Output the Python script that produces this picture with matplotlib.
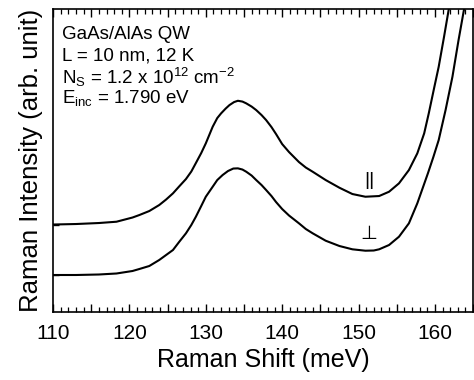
import matplotlib
matplotlib.use("Agg")
import matplotlib.pyplot as plt
from matplotlib.ticker import MultipleLocator, FuncFormatter

plt.rcParams['font.family'] = ['Liberation Sans', 'DejaVu Sans']
plt.rcParams['mathtext.fontset'] = 'custom'
plt.rcParams['mathtext.rm'] = 'Liberation Sans'
plt.rcParams['mathtext.it'] = 'Liberation Sans'

# parallel polarisation (upper trace), Raman shift in meV
par_shift = [110, 113, 116, 118.3, 120.4, 121.3, 122.6, 123.9, 124.8, 125.7,
             126.5, 127.4, 128.1, 128.7, 129.4, 130.0, 130.9, 131.5, 132.0, 132.6,
             133.1, 133.7, 134.2, 134.8, 135.3, 136.0, 136.6, 137.3, 137.9, 138.6,
             139.2, 140.0, 140.9, 142.2, 143.1, 144.0, 145.7, 147.5, 149.2, 150.9,
             152.7, 154.0, 155.3, 156.6, 157.7, 158.6, 159.2, 159.9, 160.5, 161.2,
             161.8, 162.1]
par_int = [87.5, 88, 89, 90.3, 94.5, 97, 101, 107, 112.5, 118.7,
           125.5, 133, 140.5, 149, 159, 168.7, 185.3, 194, 198.7, 203.5,
           207, 210, 211.3, 210.5, 208.7, 205.5, 202, 197, 192, 185,
           178, 168, 160, 150, 144.5, 140.3, 132, 124.3, 118, 115.3,
           116, 120.3, 128.7, 142, 158.7, 178.7, 198.7, 224, 245.3, 275.3,
           302, 315]

# perpendicular polarisation (lower trace)
perp_shift = [110, 113, 116, 118.3, 120.4, 121.3, 122.6, 123.9, 124.8, 125.7,
              126.5, 127.4, 128.1, 128.7, 129.4, 130.0, 130.9, 131.5, 132.2, 132.9,
              133.6, 134.2, 134.8, 135.3, 136.0, 136.6, 137.3, 137.9, 138.6, 139.2,
              140.0, 140.9, 142.2, 143.1, 144.0, 145.7, 147.5, 149.2, 150.9, 152.0,
              152.7, 154.0, 155.3, 156.6, 157.7, 158.5, 159.1, 159.8, 160.5, 161.4,
              162.3, 163.1, 163.8, 164.1]
perp_int = [37, 37, 37.5, 38.5, 41, 43, 46, 52, 57, 62,
            70, 78.7, 87, 95.3, 106, 115.3, 125.3, 132, 137, 141,
            143.5, 143.7, 142.5, 140.3, 136.5, 132, 127, 122, 116, 110,
            103, 96.5, 88.7, 83, 78.7, 71.3, 66, 62.7, 61.3, 61.5,
            62.7, 67, 75.3, 88.7, 108.7, 126, 139, 155, 172, 202,
            235.3, 272, 302, 315]

fig = plt.figure(figsize=(4.74, 3.8), dpi=100)
ax = fig.add_axes([0.112, 0.179, 0.886, 0.797])

ax.plot(par_shift, par_int, color='black', lw=1.5)
ax.plot(perp_shift, perp_int, color='black', lw=1.5)

ax.set_xlim(110, 165)
ax.set_ylim(0, 303)

ax.xaxis.set_major_locator(MultipleLocator(5))
ax.xaxis.set_minor_locator(MultipleLocator(1))
ax.xaxis.set_major_formatter(FuncFormatter(lambda v, p: f"{v:.0f}" if v % 10 == 0 else ""))
ax.tick_params(axis='x', which='both', direction='in', top=True, bottom=True,
               labelsize=15, pad=9)
ax.tick_params(axis='x', which='major', length=6, width=1)
ax.tick_params(axis='x', which='minor', length=3.5, width=0.9)

# small marks at the two baselines
ax.set_yticks([37, 87.5])
ax.tick_params(axis='y', direction='in', length=4, width=1, labelleft=False)

for s in ax.spines.values():
    s.set_linewidth(1.2)

ax.set_xlabel('Raman Shift (meV)', fontsize=18, labelpad=3)
ax.set_ylabel('Raman Intensity (arb. unit)', fontsize=18.5, labelpad=7)

info = ['GaAs/AlAs QW',
        'L = 10 nm, 12 K',
        r'N$_\mathrm{S}$ = 1.2 x 10$^{12}$ cm$^{-2}$',
        r'E$_\mathrm{inc}$ = 1.790 eV']
for i, line in enumerate(info):
    ax.text(0.022, 0.915 - i * 0.07, line, transform=ax.transAxes,
            fontsize=13.5, va='center', ha='left')

ax.text(151.4, 132, '||', fontsize=14, ha='center', va='center')
ax.text(151.4, 79, '\u22a5', fontsize=14, ha='center', va='center',
        family=['DejaVu Sans'])

fig.savefig('out.png', dpi=100)
